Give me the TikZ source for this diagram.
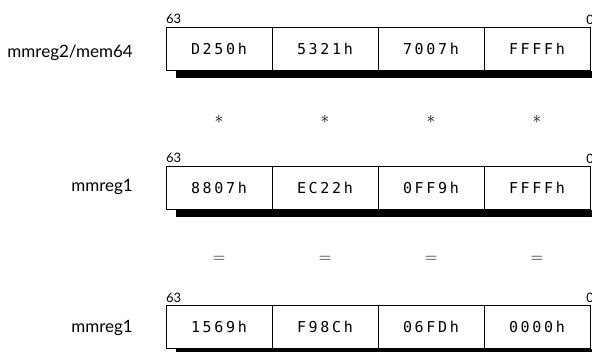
\documentclass[tikz,border=0pt]{standalone}
\usepackage{fontspec}
\setmainfont{Lato}
\newfontfamily\hexfont[LetterSpace=18]{DejaVu Sans Mono}

\tikzset{
  cell/.style={draw, fill=white, minimum width=106pt, minimum height=43pt, inner sep=0pt, font=\hexfont\fontsize{15}{17}\selectfont},
  bitno/.style={inner sep=3pt, font=\fontsize{13}{15}\selectfont},
  regname/.style={anchor=base east, inner sep=0pt, font=\fontsize{17}{19}\selectfont},
  oper/.style={inner sep=0pt, font=\fontsize{19}{21}\selectfont}
}

\begin{document}
\begin{tikzpicture}[x=1pt, y=-1pt]
        \useasboundingbox (0, 0) rectangle (592, 351);

        % first operand
        \node[cell] (a1) at (219, 49) {D250h};
        \node[cell] (a2) at (325, 49) {5321h};
        \node[cell] (a3) at (431, 49) {7007h};
        \node[cell] (a4) at (537, 49) {FFFFh};
        \fill ([xshift=10pt]a1.south west) rectangle ([xshift=4pt, yshift=-7pt]a4.south east);
        \node[bitno, above right, xshift=-3pt] (a63) at (a1.north west) {63};
        \node[bitno, above] (a0) at (a4.north east) {0};
        \node[regname] (aname) at (133, 57) {mmreg2/mem64};

        \node[oper] (m1) at (219, 119) {$*$};
        \node[oper] (m2) at (325, 119) {$*$};
        \node[oper] (m3) at (431, 119) {$*$};
        \node[oper] (m4) at (537, 119) {$*$};

        % second operand
        \node[cell] (b1) at (219, 188) {8807h};
        \node[cell] (b2) at (325, 188) {EC22h};
        \node[cell] (b3) at (431, 188) {0FF9h};
        \node[cell] (b4) at (537, 188) {FFFFh};
        \fill ([xshift=10pt]b1.south west) rectangle ([xshift=4pt, yshift=-7pt]b4.south east);
        \node[bitno, above right, xshift=-3pt] (b63) at (b1.north west) {63};
        \node[bitno, above] (b0) at (b4.north east) {0};
        \node[regname] (bname) at (133, 191) {mmreg1};

        \node[oper] (e1) at (219, 259) {$=$};
        \node[oper] (e2) at (325, 259) {$=$};
        \node[oper] (e3) at (431, 259) {$=$};
        \node[oper] (e4) at (537, 259) {$=$};

        % result
        \node[cell] (c1) at (219, 327) {1569h};
        \node[cell] (c2) at (325, 327) {F98Ch};
        \node[cell] (c3) at (431, 327) {06FDh};
        \node[cell] (c4) at (537, 327) {0000h};
        \fill ([xshift=10pt]c1.south west) rectangle ([xshift=4pt, yshift=-7pt]c4.south east);
        \node[bitno, above right, xshift=-3pt] (c63) at (c1.north west) {63};
        \node[bitno, above] (c0) at (c4.north east) {0};
        \node[regname] (cname) at (133, 332) {mmreg1};
    \end{tikzpicture}
\end{document}
